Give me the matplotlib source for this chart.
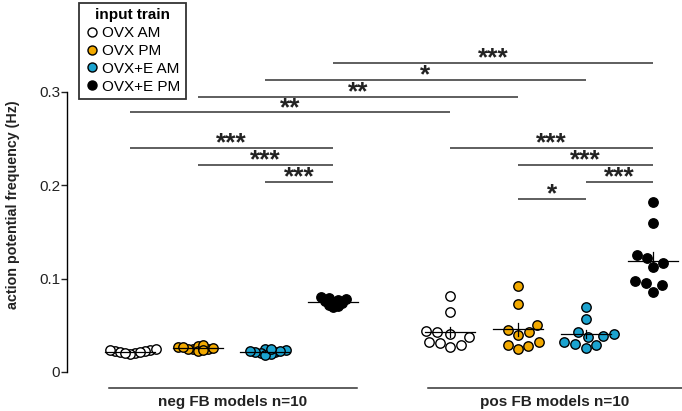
import numpy as np
import matplotlib
matplotlib.use('Agg')
import matplotlib.pyplot as plt
from matplotlib.lines import Line2D

plt.rcParams['font.family'] = ['Liberation Sans', 'DejaVu Sans']

# groups (order within each model type)
conditions = ['OVX AM', 'OVX PM', 'OVX+E AM', 'OVX+E PM']
colors = ['white', '#f2a900', '#1ba3cf', 'black']
model_labels = ['neg FB models n=10', 'pos FB models n=10']

# action potential frequency (Hz), 10 models per group
neg_ovx_am = [0.022, 0.021, 0.023, 0.020, 0.024, 0.019, 0.022, 0.021, 0.023, 0.020]
neg_ovx_pm = [0.025, 0.027, 0.024, 0.028, 0.022, 0.026, 0.029, 0.023, 0.025, 0.027]
neg_ovxe_am = [0.021, 0.023, 0.019, 0.024, 0.020, 0.022, 0.018, 0.025, 0.021, 0.022]
neg_ovxe_pm = [0.075, 0.078, 0.072, 0.080, 0.074, 0.069, 0.077, 0.076, 0.071, 0.079]
pos_ovx_am = [0.0818, 0.0636, 0.0440, 0.0422, 0.0368, 0.0403, 0.0310, 0.0261, 0.0283, 0.0325]
pos_ovx_pm = [0.092, 0.073, 0.050, 0.043, 0.045, 0.040, 0.0325, 0.029, 0.0245, 0.028]
pos_ovxe_am = [0.070, 0.057, 0.043, 0.041, 0.0375, 0.0385, 0.030, 0.026, 0.029, 0.032]
pos_ovxe_pm = [0.182, 0.160, 0.125, 0.117, 0.112, 0.122, 0.095, 0.086, 0.093, 0.0975]

groups = [neg_ovx_am, neg_ovx_pm, neg_ovxe_am, neg_ovxe_pm,
          pos_ovx_am, pos_ovx_pm, pos_ovxe_am, pos_ovxe_pm]
positions = [1, 2, 3, 4, 5.73, 6.73, 7.73, 8.73]

# significance brackets: (group i, group j, label)
comparisons = [
    (3, 7, '***'), (2, 6, '*'), (1, 5, '**'), (0, 4, '**'),
    (0, 3, '***'), (1, 3, '***'), (2, 3, '***'),
    (4, 7, '***'), (5, 7, '***'), (6, 7, '***'), (5, 6, '*'),
]
bracket_y = [0.331, 0.313, 0.295, 0.278,
             0.240, 0.222, 0.203,
             0.240, 0.222, 0.203, 0.185]

fig = plt.figure(figsize=(6.82, 4.11), dpi=100)
ax = fig.add_axes([67 / 682, 0, 615 / 682, 361 / 411])
ax.set_xlim(0.069, 9.154)
ax.set_ylim(-0.042, 0.345)

# pixel scales used for the swarm layout
px_x = 67.7
px_y = 933.0


def swarm(vals, dmin):
    # simple beeswarm: offsets (px) so points are at least dmin px apart
    order = np.argsort(vals)
    placed = []
    offs = np.zeros(len(vals))
    for i in order:
        y = vals[i] * px_y
        cands = [0.0]
        for (xp, yp) in placed:
            dy = y - yp
            if abs(dy) < dmin:
                dx = np.sqrt(dmin ** 2 - dy ** 2)
                cands += [xp + dx, xp - dx]
        cands.sort(key=abs)
        for c in cands:
            if all((c - xp) ** 2 + (y - yp) ** 2 >= dmin ** 2 - 1e-6 for (xp, yp) in placed):
                offs[i] = c
                placed.append((c, y))
                break
    return offs / px_x


for k, (vals, xpos) in enumerate(zip(groups, positions)):
    vals = np.array(vals)
    dmin = 5.2 if k < 4 else 11.0
    xs = xpos + swarm(vals, dmin)
    ax.scatter(xs, vals, s=46, c=colors[k % 4], edgecolors='black',
               linewidths=1.0, zorder=3)
    m = vals.mean()
    sem = vals.std(ddof=1) / np.sqrt(len(vals))
    ax.plot([xpos - 0.37, xpos + 0.37], [m, m], color='black', lw=0.9, zorder=4)
    ax.plot([xpos, xpos], [m - sem, m + sem], color='black', lw=0.9, zorder=4)

for (i, j, lab), yb in zip(comparisons, bracket_y):
    ax.plot([positions[i], positions[j]], [yb, yb], color='#333333', lw=1.1,
            solid_capstyle='butt')
    ax.text((positions[i] + positions[j]) / 2, yb - 0.0025, lab, ha='center',
            va='baseline', fontsize=19, fontweight='bold', color='#222222')

# model type lines and labels
for (x0, x1), lab in zip([(0.69, 4.35), (5.40, 9.15)], model_labels):
    ax.plot([x0, x1], [-0.017, -0.017], color='#333333', lw=1.1, clip_on=False)
    ax.text((x0 + x1) / 2, -0.025, lab, ha='center', va='top', fontsize=11,
            fontweight='bold', color='#222222')

ax.spines[['top', 'right', 'bottom']].set_visible(False)
ax.spines['left'].set_bounds(0, 0.3)
ax.spines['left'].set_linewidth(1.0)
ax.set_xticks([])
ax.set_yticks([0, 0.1, 0.2, 0.3])
ax.set_yticklabels(['0', '0.1', '0.2', '0.3'])
ax.tick_params(axis='y', length=4, width=1.0, labelsize=11, colors='#222222', pad=1)
ax.set_ylabel('action potential frequency (Hz)', fontsize=10.3, fontweight='bold',
              color='#222222')
ax.yaxis.set_label_coords(-0.077, 0.571)

handles = [Line2D([], [], marker='o', ls='none', markersize=6.5,
                  markerfacecolor=c, markeredgecolor='black', markeredgewidth=1.0)
           for c in colors]
leg = fig.legend(handles, conditions, title='input train', loc='upper left',
                 bbox_to_anchor=(79 / 682, 1 - 3 / 411), frameon=True, fancybox=False,
                 fontsize=11, handletextpad=0.15, handlelength=1.0,
                 labelspacing=0.25, borderpad=0.35, borderaxespad=0)
leg.get_title().set_fontweight('bold')
leg.get_title().set_fontsize(11)
leg.get_frame().set_edgecolor('black')
leg.get_frame().set_linewidth(1.3)

fig.savefig('out.png', dpi=100)
